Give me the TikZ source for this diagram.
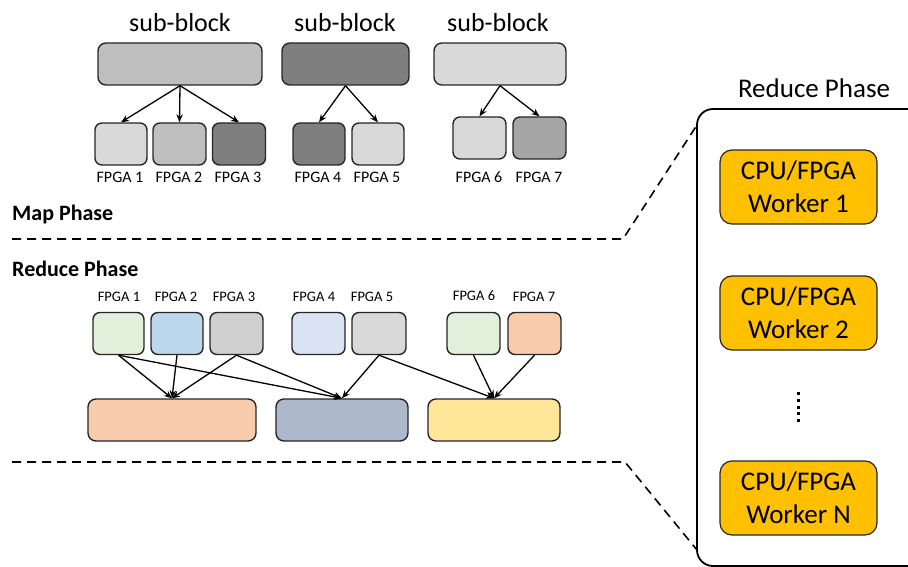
\documentclass[tikz,border=0pt]{standalone}
\usepackage{fontspec}
\setmainfont{Carlito}
\usetikzlibrary{arrows.meta}
\definecolor{gA}{HTML}{D9D9D9}
\definecolor{gB}{HTML}{BFBFBF}
\definecolor{gC}{HTML}{7F7F7F}
\definecolor{gD}{HTML}{A6A6A6}
\definecolor{lgreen}{HTML}{E2EFDA}
\definecolor{lblue}{HTML}{BDD7EE}
\definecolor{lgrey}{HTML}{CFCFCF}
\definecolor{pblue}{HTML}{DAE3F3}
\definecolor{peach}{HTML}{F8CBAD}
\definecolor{slate}{HTML}{ADB9CA}
\definecolor{cream}{HTML}{FFE699}
\definecolor{amber}{HTML}{FFC000}
\tikzset{
  fbox/.style={draw=black!85, line width=1.4pt, rounded corners=7pt, inner sep=0pt,
    minimum width=53pt, minimum height=42pt},
  wide/.style={draw=black!85, line width=1.4pt, rounded corners=8pt, inner sep=0pt,
    minimum height=42pt},
  worker/.style={draw=black!85, line width=1.2pt, fill=amber, rounded corners=12pt,
    inner sep=0pt, minimum width=157pt, minimum height=74pt, align=center,
    font=\fontsize{27}{33}\selectfont},
  title/.style={font=\fontsize{26}{30}\selectfont, inner sep=0pt},
  tlabel/.style={font=\fontsize{16}{18}\selectfont, inner sep=0pt},
  rlabel/.style={font=\fontsize{14.5}{17}\selectfont, inner sep=0pt},
  phase/.style={font=\bfseries\fontsize{22}{26}\selectfont, inner sep=0pt, anchor=west},
  link/.style={line width=1.3pt, -{Stealth[length=8pt,width=6.5pt]}},
  split/.style={line width=1.6pt, dash pattern=on 9pt off 6pt},
}
\begin{document}
\begin{tikzpicture}[x=1pt, y=-1pt]
\useasboundingbox (0,0) rectangle (908,567);
\clip (0,0) rectangle (908,567);

% ---- map phase: sub-blocks split over FPGAs
\node[title] (h1) at (180,23) {sub-block};
\node[title] (h2) at (345,23) {sub-block};
\node[title] (h3) at (498,23) {sub-block};

\node[wide, fill=gB, minimum width=164pt] (s1) at (180,64) {};
\node[wide, fill=gC, minimum width=127pt] (s2) at (345.5,64) {};
\node[wide, fill=gA, minimum width=132pt] (s3) at (500,64) {};

\node[fbox, fill=gA, minimum width=52pt] (t1) at (121,144) {};
\node[fbox, fill=gB] (t2) at (179.5,144) {};
\node[fbox, fill=gC] (t3) at (239,144) {};
\node[fbox, fill=gC, minimum width=52pt] (t4) at (319,144) {};
\node[fbox, fill=gA, minimum width=52pt] (t5) at (378,144) {};
\node[fbox, fill=gA] (t6) at (479.5,138) {};
\node[fbox, fill=gD] (t7) at (539.5,138) {};

\node[tlabel] (tl1) at (120,177) {FPGA 1};
\node[tlabel] (tl2) at (179,177) {FPGA 2};
\node[tlabel] (tl3) at (238,177) {FPGA 3};
\node[tlabel] (tl4) at (318,177) {FPGA 4};
\node[tlabel] (tl5) at (377,177) {FPGA 5};
\node[tlabel] (tl6) at (479,177) {FPGA 6};
\node[tlabel] (tl7) at (539,177) {FPGA 7};

\draw[link] (s1.south) -- (t1.north);
\draw[link] (s1.south) -- (t2.north);
\draw[link] (s1.south) -- (t3.north);
\draw[link] (s2.south) -- (t4.north);
\draw[link] (s2.south) -- (t5.north);
\draw[link] (s3.south) -- (t6.north);
\draw[link] (s3.south) -- (t7.north);

% ---- phase labels and separators
\node[phase] (mp) at (12,215) {Map Phase};
\node[phase] (rp) at (12,269) {Reduce Phase};

\coordinate (a1) at (12,239);
\coordinate (a2) at (623,239);
\coordinate (a3) at (697,125);
\coordinate (b1) at (12,462);
\coordinate (b2) at (625,462);
\coordinate (b3) at (697,550);
\draw[split] (a1) -- (a2) -- (a3);
\draw[split] (b1) -- (b2) -- (b3);

% ---- reduce phase: FPGAs feeding reducers
\node[rlabel] (rl1) at (119,297) {FPGA 1};
\node[rlabel] (rl2) at (176,297) {FPGA 2};
\node[rlabel] (rl3) at (234,297) {FPGA 3};
\node[rlabel] (rl4) at (314,297) {FPGA 4};
\node[rlabel] (rl5) at (372,297) {FPGA 5};
\node[rlabel] (rl6) at (474,296) {FPGA 6};
\node[rlabel] (rl7) at (534,297) {FPGA 7};

\node[fbox, fill=lgreen, minimum width=51pt] (r1) at (118.5,333.5) {};
\node[fbox, fill=lblue, minimum width=52pt] (r2) at (177,333.5) {};
\node[fbox, fill=lgrey] (r3) at (236.5,333.5) {};
\node[fbox, fill=pblue] (r4) at (318.5,333.5) {};
\node[fbox, fill=gA, minimum width=54pt] (r5) at (379,333.5) {};
\node[fbox, fill=lgreen] (r6) at (473.5,333.5) {};
\node[fbox, fill=peach] (r7) at (534.5,333.5) {};

\node[wide, fill=peach, minimum width=168pt] (ra) at (172,420) {};
\node[wide, fill=slate, minimum width=132pt] (rb) at (342,420) {};
\node[wide, fill=cream, minimum width=132pt] (rc) at (494,420) {};

\draw[link] (r1.south) -- (ra.north);
\draw[link] (r1.south) -- (rb.north);
\draw[link] (r2.south) -- (ra.north);
\draw[link] (r3.south) -- (ra.north);
\draw[link] (r3.south) -- (rb.north);
\draw[link] (r5.south) -- (rb.north);
\draw[link] (r5.south) -- (rc.north);
\draw[link] (r6.south) -- (rc.north);
\draw[link] (r7.south) -- (rc.north);

% ---- zoomed view of the reduce workers
\node[title, font=\fontsize{27}{30}\selectfont] (rt) at (814,88) {Reduce Phase};
\draw[line width=1.8pt, rounded corners=16pt] (697,109) rectangle (945,566);

\node[worker] (w1) at (798.5,187) {CPU/FPGA\\Worker 1};
\node[worker] (w2) at (798.5,313) {CPU/FPGA\\Worker 2};
\node[worker] (wn) at (798.5,498) {CPU/FPGA\\Worker N};

\coordinate (d1) at (798,392);
\coordinate (d2) at (798,422);
\draw[line width=3pt, dash pattern=on 3pt off 3.75pt] (d1) -- (d2);
\end{tikzpicture}
\end{document}
